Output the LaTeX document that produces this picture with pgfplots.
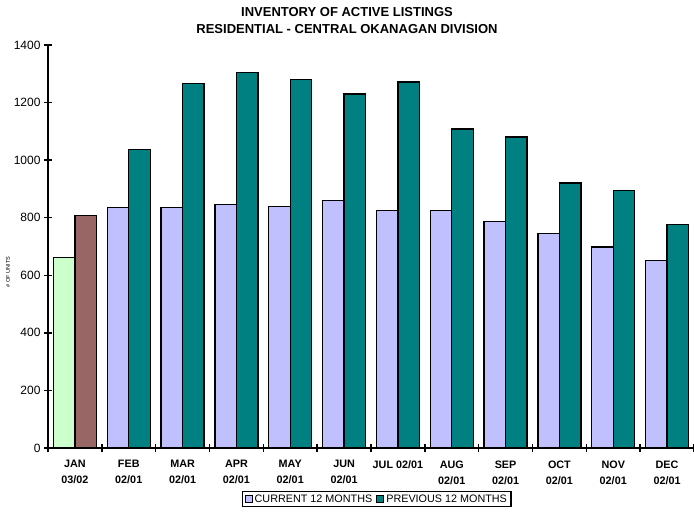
\documentclass[border=0pt]{standalone}
\usepackage{fontspec}
\setmainfont{Liberation Sans}
\usepackage{pgfplots}
\pgfplotsset{compat=1.18}
\definecolor{curcol}{HTML}{C0C0FF}
\definecolor{prevcol}{HTML}{008080}
\definecolor{jancur}{HTML}{CCFFCC}
\definecolor{janprev}{HTML}{996666}
\begin{document}
\begin{tikzpicture}
\begin{axis}[
  name=ax,
  at={(48pt,-448pt)}, anchor=south west,
  scale only axis, width=646pt, height=403pt,
  xmin=-0.5, xmax=11.5, ymin=0, ymax=1400,
  axis x line*=bottom, axis y line*=left,
  axis line style={line width=1.6pt},
  ybar=0pt, bar width=21.5pt,
  xtick={0,...,11},
  xticklabels={JAN\\03/02, FEB\\02/01, MAR\\02/01, APR\\02/01, MAY\\02/01, JUN\\02/01,
    JUL 02/01, AUG\\02/01, SEP\\02/01, OCT\\02/01, NOV\\02/01, DEC\\02/01},
  xticklabel style={align=center, font=\bfseries\fontsize{10.8}{16}\selectfont, yshift=-5pt},
  major x tick style={draw=none},
  minor xtick={-0.5,0.5,...,11.5},
  minor tick length=8pt,
  ytick={0,200,...,1400},
  yticklabel style={font=\fontsize{12}{14}\selectfont},
  /pgf/number format/assume math mode=true,
  /pgf/number format/1000 sep={},
  major tick length=8pt,
  tick align=center,
  tick style={black, line width=1.4pt},
  legend style={at={(0.509,-0.1266)}, anchor=center, draw=black, line width=1.2pt,
    font=\fontsize{10.8}{12}\selectfont, legend columns=2,
    /tikz/every even column/.append style={column sep=2pt},
    inner xsep=2pt, inner ysep=1pt},
  legend image code/.code={\draw[#1, line width=1pt] (0pt,-3.5pt) rectangle (7pt,3.5pt);},
  every axis plot/.append style={draw=black, line width=1.3pt},
]
\addplot[fill=curcol, bar shift=-10.75pt] coordinates {
  (1,835) (2,835) (3,846) (4,840) (5,860) (6,824) (7,825) (8,788) (9,744) (10,698) (11,651)};
\addplot[fill=prevcol, bar shift=10.75pt] coordinates {
  (1,1037) (2,1266) (3,1305) (4,1279) (5,1230) (6,1271) (7,1108) (8,1080) (9,921) (10,894) (11,776)};
\addplot[fill=jancur, bar shift=-10.75pt, forget plot] coordinates {(0,661)};
\addplot[fill=janprev, bar shift=10.75pt, forget plot] coordinates {(0,807)};
\legend{CURRENT 12 MONTHS, PREVIOUS 12 MONTHS}
\end{axis}
\node[font=\bfseries\fontsize{13}{17}\selectfont, align=center, anchor=center] at (347pt,-20.5pt)
  {INVENTORY OF ACTIVE LISTINGS\\RESIDENTIAL - CENTRAL OKANAGAN DIVISION};
\node[font=\fontsize{5.5}{6}\selectfont, rotate=90] at (8pt,-272pt) {\# OF UNITS};
\pgfresetboundingbox
\path (0pt,0pt) rectangle (694pt,-512pt);
\end{tikzpicture}
\end{document}
